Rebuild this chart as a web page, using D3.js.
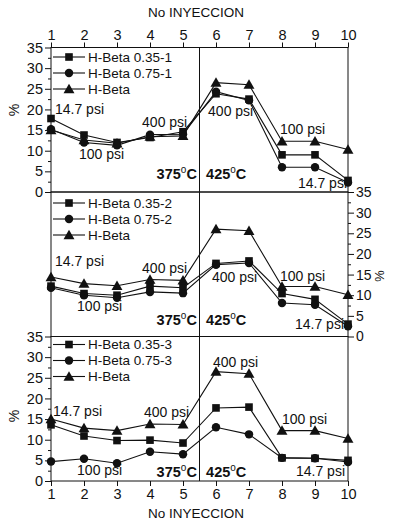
<!DOCTYPE html>
<html><head><meta charset="utf-8">
<script src="https://cdn.jsdelivr.net/npm/d3@7"></script>
<style>body{margin:0;background:#fff}svg{display:block;font-family:"Liberation Sans",Arial,sans-serif}</style>
</head><body><svg id="c" width="393" height="525"></svg>
<script>
const injections = [1,2,3,4,5,6,7,8,9,10];
const yTicks = [0,5,10,15,20,25,30,35];
const legendNames = [
  ["H-Beta 0.35-1","H-Beta 0.75-1","H-Beta"],
  ["H-Beta 0.35-2","H-Beta 0.75-2","H-Beta"],
  ["H-Beta 0.35-3","H-Beta 0.75-3","H-Beta"]
];
// Panel 1
const sq1 = [17.8, 13.8, 12.0, 13.2, 14.6, 23.8, 22.5, 9.0, 9.0, 2.8];
const ci1 = [15.2, 12.0, 11.3, 13.9, 14.0, 24.3, 22.2, 6.0, 6.0, 2.3];
const tr1 = [15.0, 12.6, 11.8, 13.4, 13.6, 26.5, 26.0, 12.3, 12.3, 10.3];
// Panel 2
const sq2 = [12.2, 10.4, 10.0, 12.2, 11.8, 17.7, 18.3, 10.4, 9.0, 3.0];
const ci2 = [11.8, 10.0, 9.4, 10.8, 10.5, 17.4, 17.8, 8.1, 7.7, 2.5];
const tr2 = [14.4, 12.8, 12.3, 13.8, 13.6, 26.0, 25.6, 12.1, 12.1, 10.1];
// Panel 3
const sq3 = [13.6, 10.9, 9.8, 9.9, 9.2, 17.7, 17.9, 5.6, 5.5, 5.0];
const ci3 = [4.7, 5.4, 4.3, 7.1, 6.5, 13.0, 11.3, 5.6, 5.5, 4.6];
const tr3 = [15.0, 12.8, 12.2, 13.8, 13.7, 26.5, 26.0, 12.2, 12.2, 10.3];
// annotations [text, x(injection), y(%), anchor]
const notes1 = [["14.7 psi",1.12,18.9,"start"],["100 psi",1.85,8.0,"start"],["400 psi",3.76,15.8,"start"],
  ["400 psi",5.76,18.4,"start"],["100 psi",7.94,14.0,"start"],["14.7 psi",9.97,1.0,"end"]];
const notes2 = [["14.7 psi",1.12,17.1,"start"],["100 psi",1.79,6.2,"start"],["400 psi",3.76,15.5,"start"],
  ["400 psi",5.88,13.3,"start"],["100 psi",7.94,13.5,"start"],["14.7 psi",9.88,1.8,"end"]];
const notes3 = [["14.7 psi",1.06,15.8,"start"],["100 psi",1.79,1.45,"start"],["400 psi",3.82,15.6,"start"],
  ["400 psi",5.91,27.7,"start"],["100 psi",8.0,13.8,"start"],["14.7 psi",9.91,1.1,"end"]];
const temps = [["375","C",5.42,"end"],["425","C",5.70,"start"]];
const tempY = [3.2, 2.8, 1.0];
const divider = 5.5;

const svg = d3.select("#c");
const X0 = 51, X1 = 348;
const x = d3.scaleLinear().domain([1,10]).range([X0,X1]);
const panelTops = [47.5, 192, 336.5];
const PH = 144.5;
const col = "#111";
const font = "Liberation Sans, Arial, sans-serif";

const panels = [
  {s:[sq1,ci1,tr1], notes:notes1, axis:"left", legendY:57},
  {s:[sq2,ci2,tr2], notes:notes2, axis:"right", legendY:203},
  {s:[sq3,ci3,tr3], notes:notes3, axis:"left", legendY:344.5}
];
const symTypes = [d3.symbolSquare, d3.symbolCircle, d3.symbolTriangle];
const symSizes = [58, 56, 52];

panels.forEach((p, i) => {
  const top = panelTops[i], bot = top + PH;
  const y = d3.scaleLinear().domain([0,35]).range([bot, top]);
  const g = svg.append("g");
  g.append("rect").attr("x",X0).attr("y",top).attr("width",X1-X0).attr("height",PH)
    .attr("fill","none").attr("stroke",col).attr("stroke-width",1);
  const left = p.axis === "left";
  const ax = (left ? d3.axisLeft(y) : d3.axisRight(y)).tickValues(yTicks).tickSize(6).tickPadding(2);
  const ga = g.append("g").attr("transform",`translate(${left?X0:X1},0)`).call(ax);
  ga.select(".domain").remove();
  ga.selectAll("text").attr("font-size",left?14.5:14).attr("font-family",font).attr("fill",col);
  ga.selectAll("line").attr("stroke",col);
  const mi = (left ? d3.axisLeft(y) : d3.axisRight(y)).tickValues(d3.range(2.5,35,5)).tickSize(3).tickFormat("");
  const gm = g.append("g").attr("transform",`translate(${left?X0:X1},0)`).call(mi);
  gm.select(".domain").remove(); gm.selectAll("line").attr("stroke",col);

  const line = d3.line().x((d,k)=>x(injections[k])).y(d=>y(d));
  p.s.forEach(ser => {
    g.append("path").attr("d", line(ser)).attr("fill","none").attr("stroke",col).attr("stroke-width",1.1);
  });
  p.s.forEach((ser, k) => {
    g.selectAll(null).data(ser).enter().append("path")
      .attr("d", d3.symbol().type(symTypes[k]).size(symSizes[k]))
      .attr("transform",(d,j)=>`translate(${x(injections[j])},${y(d) + (k===2?1:0)})`)
      .attr("fill",col);
  });
  p.notes.forEach(n => {
    g.append("text").attr("x",x(n[1])).attr("y",y(n[2])).attr("text-anchor",n[3])
      .attr("font-size",14).attr("fill",col).text(n[0]);
  });
  temps.forEach(t => {
    const tx = g.append("text").attr("x",x(t[2])).attr("y",y(tempY[i])).attr("text-anchor",t[3])
      .attr("font-size",14.5).attr("font-weight","bold").attr("fill",col);
    tx.append("tspan").text(t[0]);
    tx.append("tspan").attr("dy",-6).attr("font-size",10).attr("font-weight","normal").text("o");
    tx.append("tspan").attr("dy",6).text(t[1]);
  });
  legendNames[i].forEach((name, k) => {
    const ly = p.legendY + k*16;
    g.append("line").attr("x1",53).attr("x2",85).attr("y1",ly).attr("y2",ly).attr("stroke",col).attr("stroke-width",1.1);
    g.append("path").attr("d", d3.symbol().type(symTypes[k]).size(symSizes[k]))
      .attr("transform",`translate(69,${ly + (k===2?1:0)})`).attr("fill",col);
    g.append("text").attr("x",88).attr("y",ly).attr("dy","0.35em").attr("font-size",13.5).attr("fill",col).text(name);
  });
  if (left) {
    const cy = i===0 ? 110 : 416;
    svg.append("text").attr("transform",`translate(19,${cy}) rotate(-90)`).attr("text-anchor","middle")
      .attr("font-size",14).attr("fill",col).text("%");
  } else {
    svg.append("text").attr("transform",`translate(375,276) rotate(90)`).attr("text-anchor","middle")
      .attr("font-size",13).attr("fill",col).text("%");
  }
});

svg.append("line").attr("x1",x(divider)).attr("x2",x(divider)).attr("y1",panelTops[0]).attr("y2",panelTops[2]+PH)
  .attr("stroke",col).attr("stroke-width",1);

const axT = svg.append("g").attr("transform",`translate(0,${panelTops[0]})`)
  .call(d3.axisTop(x).tickValues(injections).tickSize(5).tickPadding(3).tickFormat(d3.format("d")));
axT.select(".domain").remove();
axT.selectAll("text").attr("font-size",14.5).attr("font-family",font).attr("fill",col);
axT.selectAll("line").attr("stroke",col);
const bY = panelTops[2]+PH;
const axB = svg.append("g").attr("transform",`translate(0,${bY})`)
  .call(d3.axisBottom(x).tickValues(injections).tickSize(5).tickPadding(3).tickFormat(d3.format("d")));
axB.select(".domain").remove();
axB.selectAll("text").attr("font-size",14.5).attr("font-family",font).attr("fill",col);
axB.selectAll("line").attr("stroke",col);

svg.append("text").attr("x",196).attr("y",17).attr("text-anchor","middle").attr("font-size",13.5).attr("fill",col).text("No INYECCION");
svg.append("text").attr("x",196).attr("y",518).attr("text-anchor","middle").attr("font-size",13.5).attr("fill",col).text("No INYECCION");
</script></body></html>
